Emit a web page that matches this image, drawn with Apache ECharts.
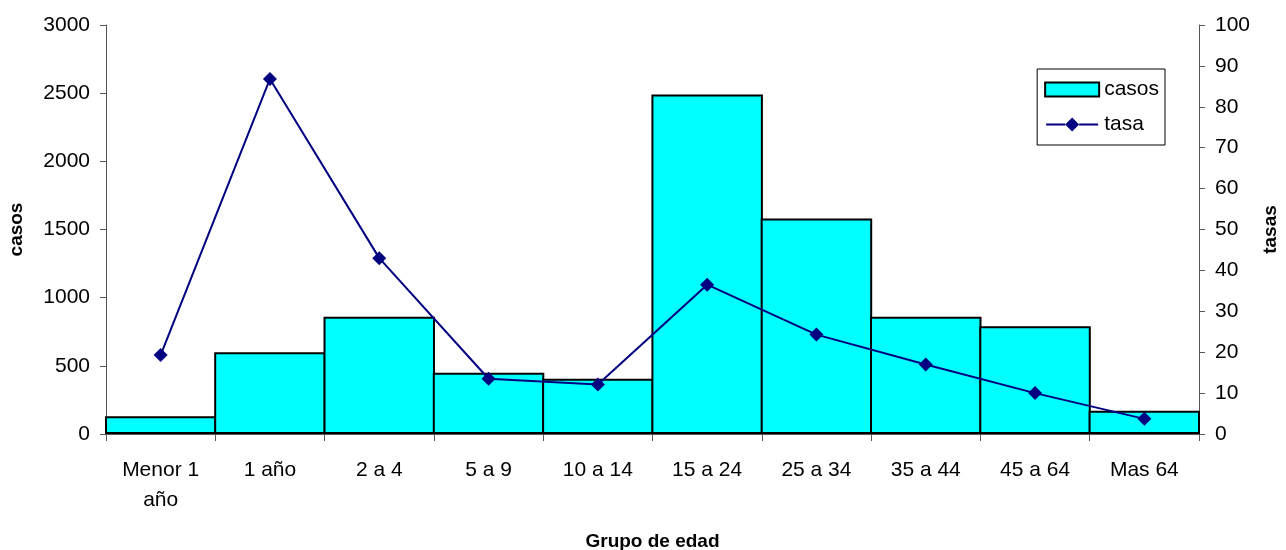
<!DOCTYPE html>
<html>
<head>
<meta charset="utf-8">
<script src="https://cdn.jsdelivr.net/npm/echarts@6/dist/echarts.min.js"></script>
<style>
html,body{margin:0;padding:0;background:#fff;}
#chart{width:1286px;height:550px;}
</style>
</head>
<body>
<div id="chart"></div>
<script>
const categories = ['Menor 1\naño', '1 año', '2 a 4', '5 a 9', '10 a 14', '15 a 24', '25 a 34', '35 a 44', '45 a 64', 'Mas 64'];
const casos = [130, 600, 860, 450, 405, 2490, 1580, 860, 790, 170];
const tasa = [19.3, 86.8, 43, 13.5, 12.1, 36.5, 24.3, 17, 10, 3.7];
const leftTicks = { min: 0, max: 3000, interval: 500 };
const rightTicks = { min: 0, max: 100, interval: 10 };

const FONT = 'Liberation Sans, Arial, sans-serif';
const axisLineStyle = { color: '#555', width: 1 };
const lineIcon = 'path://M0,6 L19,6 L19,8 L0,8 Z M19,7 L26,0 L33,7 L26,14 Z M33,6 L52,6 L52,8 L33,8 Z';

const chart = echarts.init(document.getElementById('chart'), null, { renderer: 'canvas' });
chart.setOption({
  animation: false,
  backgroundColor: '#fff',
  textStyle: { fontFamily: FONT, color: '#000' },
  grid: { left: 106, right: 87, top: 25, bottom: 116, containLabel: false, outerBoundsMode: 'none' },
  legend: {
    orient: 'vertical',
    right: 1286 - 1165,
    top: 69,
    padding: [10, 6, 10, 7],
    itemGap: 14,
    itemWidth: 54,
    itemHeight: 14,
    borderColor: '#000',
    borderWidth: 1,
    textStyle: { fontFamily: FONT, fontSize: 21, color: '#000' },
    data: [
      { name: 'casos', icon: 'rect', itemStyle: { color: '#00FFFF', borderColor: '#000', borderWidth: 2 } },
      { name: 'tasa', icon: lineIcon, itemStyle: { color: '#000080', borderWidth: 0 }, lineStyle: { width: 0 } }
    ]
  },
  xAxis: {
    type: 'category',
    data: categories,
    boundaryGap: true,
    name: 'Grupo de edad',
    nameLocation: 'middle',
    nameGap: 98,
    nameTextStyle: { fontFamily: FONT, fontSize: 19, fontWeight: 'bold', color: '#000' },
    axisLine: { lineStyle: axisLineStyle },
    axisTick: { show: true, alignWithLabel: false, length: 7, lineStyle: axisLineStyle },
    axisLabel: { fontFamily: FONT, fontSize: 21, color: '#000', lineHeight: 30, margin: 21, interval: 0 },
    splitLine: { show: false }
  },
  yAxis: [
    {
      type: 'value',
      min: leftTicks.min, max: leftTicks.max, interval: leftTicks.interval,
      position: 'left',
      name: 'casos',
      nameLocation: 'middle',
      nameRotate: 90,
      nameGap: 80,
      nameTextStyle: { fontFamily: FONT, fontSize: 19, fontWeight: 'bold', color: '#000' },
      axisLine: { show: true, lineStyle: axisLineStyle },
      axisTick: { show: true, length: 6, lineStyle: axisLineStyle },
      axisLabel: { fontFamily: FONT, fontSize: 21, color: '#000', margin: 16, formatter: v => String(v) },
      splitLine: { show: false }
    },
    {
      type: 'value',
      min: rightTicks.min, max: rightTicks.max, interval: rightTicks.interval,
      position: 'right',
      name: 'tasas',
      nameLocation: 'middle',
      nameRotate: 90,
      nameGap: 60,
      nameTextStyle: { fontFamily: FONT, fontSize: 19, fontWeight: 'bold', color: '#000' },
      axisLine: { show: true, lineStyle: axisLineStyle },
      axisTick: { show: true, length: 6, lineStyle: axisLineStyle },
      axisLabel: { fontFamily: FONT, fontSize: 21, color: '#000', margin: 16, formatter: v => String(v) },
      splitLine: { show: false }
    }
  ],
  series: [
    {
      name: 'casos',
      type: 'bar',
      yAxisIndex: 0,
      data: casos,
      barCategoryGap: '-2%',
      itemStyle: { color: '#00FFFF', borderColor: '#000', borderWidth: 2 },
      z: 2
    },
    {
      name: 'tasa',
      type: 'line',
      yAxisIndex: 1,
      data: tasa,
      symbol: 'diamond',
      symbolSize: 14,
      showAllSymbol: true,
      lineStyle: { color: '#000080', width: 2 },
      itemStyle: { color: '#000080' },
      z: 3
    }
  ]
});
</script>
</body>
</html>
